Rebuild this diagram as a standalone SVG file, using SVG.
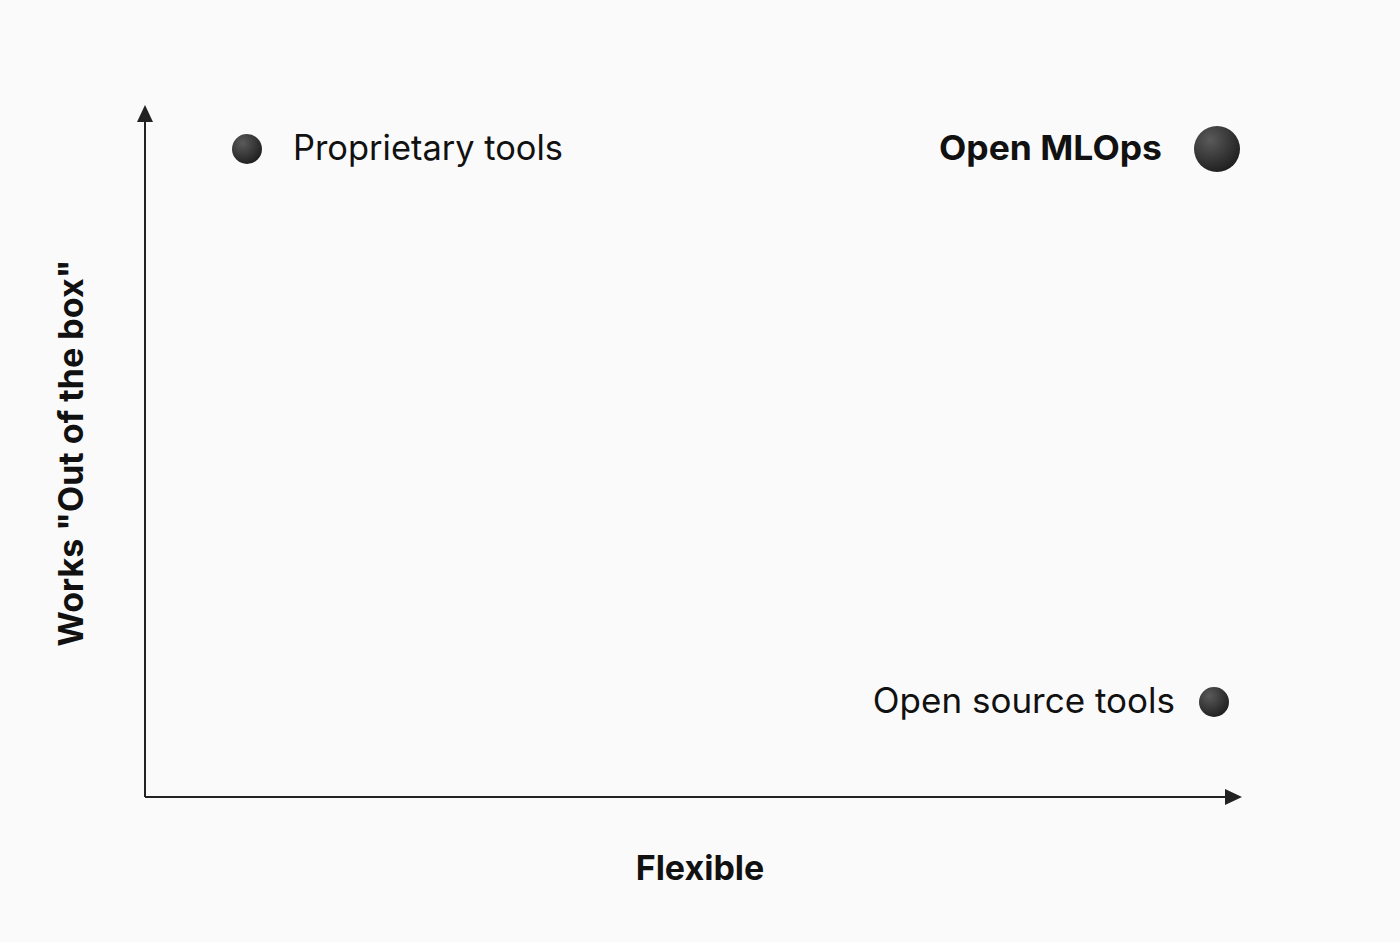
<svg xmlns="http://www.w3.org/2000/svg" width="1400" height="942" viewBox="0 0 1400 942">
<style>
.lbl{font-family:Inter,"Liberation Sans",sans-serif;fill:#111;}
.reg{font-size:35px;font-weight:400;}
.bold{font-size:34px;font-weight:700;}
.axis{stroke:#222;stroke-width:2;fill:none;}
</style>
<defs>
<radialGradient id="ball" cx="0.35" cy="0.3" r="0.75">
<stop offset="0" stop-color="#5a5a5a"/>
<stop offset="1" stop-color="#1e1e1e"/>
</radialGradient>
</defs>
<rect width="1400" height="942" fill="#fafafa"/>
<g id="connectors">
<line class="axis" x1="145" y1="797" x2="145" y2="122"/>
<path d="M137,122 L145,105 L153,122 z" fill="#222"/>
<line class="axis" x1="145" y1="797" x2="1225" y2="797"/>
<path d="M1225,789 L1242,797 L1225,805 z" fill="#222"/>
</g>
<g id="proprietary">
<circle cx="247" cy="149" r="15" fill="url(#ball)"/>
<text class="lbl reg" x="293" y="160" textLength="270" lengthAdjust="spacingAndGlyphs">Proprietary tools</text>
</g>
<g id="open-mlops">
<circle cx="1217" cy="149" r="23" fill="url(#ball)"/>
<text class="lbl bold" x="939" y="160" textLength="223" lengthAdjust="spacingAndGlyphs">Open MLOps</text>
</g>
<g id="open-source">
<circle cx="1214" cy="702" r="15" fill="url(#ball)"/>
<text class="lbl reg" x="1175" y="713" text-anchor="end">Open source tools</text>
</g>
<g id="x-label">
<text class="lbl bold" x="700" y="880" text-anchor="middle">Flexible</text>
</g>
<g id="y-label">
<text class="lbl bold" transform="translate(83,453) rotate(-90)" text-anchor="middle">Works "Out of the box"</text>
</g>
</svg>
